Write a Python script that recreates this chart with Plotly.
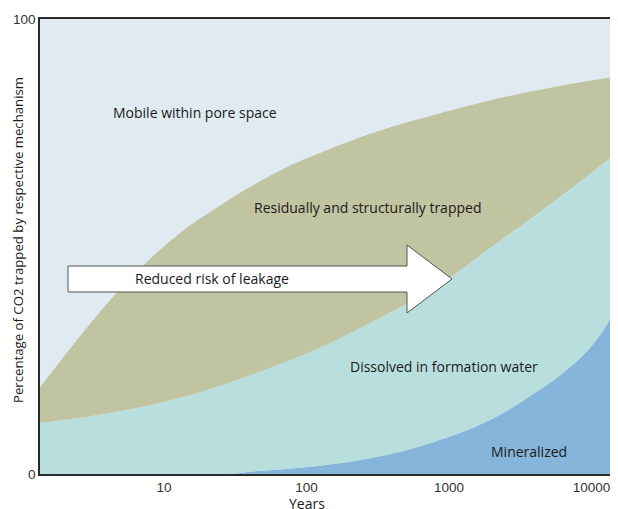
import plotly.graph_objects as go

# Upper boundary of each band (cumulative % of CO2),
# each sampled at its own years (log axis)
mineral_years = [1.35, 20, 30, 40, 90, 202, 453, 773, 1337, 2280, 3890, 5370, 7080, 9290, 11750, 14600]
mineral_top = [0, 0, 0, 0.5, 1.4, 2.7, 4.9, 7.0, 9.6, 13.0, 17.6, 20.5, 23.5, 27.0, 31.0, 36.0]

dissolved_years = [1.35, 3.98, 11.2, 31.6, 89, 158, 251, 447, 741, 1000, 1585, 2690, 5370, 10000, 14600]
dissolved_top = [11.2, 13.3, 16.2, 20.5, 25.8, 29.3, 32.5, 36.5, 40.3, 43.0, 47.6, 52.9, 59.8, 66.2, 70.3]

residual_years = [1.35, 2.24, 3.89, 6.61, 13.5, 23.4, 39.8, 69.2, 117, 200, 398, 741, 1862, 5370, 14600]
residual_top = [19.0, 27.9, 37.1, 44.8, 53.4, 58.5, 63.0, 67.1, 70.2, 73.1, 76.3, 78.7, 82.0, 85.0, 87.3]

series_names = ["Mineralized", "Dissolved in formation water",
                "Residually and structurally trapped"]
series_years = [mineral_years, dissolved_years, residual_years]
series_tops = [mineral_top, dissolved_top, residual_top]
series_colors = ["#86b5dc", "#b8dfdd", "#c1c4a0"]
mobile_color = "#dfeaf1"  # "Mobile within pore space" fills the rest up to 100 %

x_tickvals = [10, 100, 1000, 10000]
x_ticktext = ["10", "100", "1000", "10000"]
y_tickvals = [0, 100]
y_ticktext = ["0", "100"]

fig = go.Figure()
for i, (name, xs, ys, col) in enumerate(zip(series_names, series_years, series_tops, series_colors)):
    fig.add_trace(go.Scatter(
        x=xs, y=ys, name=name, mode="lines",
        fill="tozeroy" if i == 0 else "tonexty",
        line=dict(width=0, shape="spline", smoothing=1.0), fillcolor=col,
        hoverinfo="skip", showlegend=False))

# The page body has an 8px margin, so the figure is drawn 8px in from the window corner
OFF = 8
W, H = 618 - OFF, 509 - OFF
L, R, T, B = 40 - OFF, 3, 19 - OFF, 509 - 474

fig.update_layout(
    width=W, height=H,
    margin=dict(l=L, r=R, t=T, b=B, autoexpand=False),
    paper_bgcolor="white", plot_bgcolor=mobile_color,
    font=dict(family="Open Sans", color="#222"),
    showlegend=False,
)
fig.update_xaxes(type="log", range=[0.13, 4.165], tickvals=x_tickvals, ticktext=x_ticktext,
                 showgrid=False, zeroline=False, showline=True, linecolor="#2a2a2a",
                 linewidth=1.5, mirror=True, ticks="", automargin=False,
                 tickfont=dict(family="Liberation Sans, Arial", size=13.5, color="#333"))
fig.update_yaxes(range=[0, 100], tickvals=y_tickvals, ticktext=y_ticktext,
                 showgrid=False, zeroline=False, showline=True, linecolor="#2a2a2a",
                 linewidth=1.5, mirror=True, ticks="", automargin=False,
                 tickfont=dict(family="Liberation Sans, Arial", size=13.5, color="#333"))

pw, ph = W - L - R, H - T - B

def px(x):
    # window pixel x -> paper fraction
    return (x - OFF - L) / pw

def py(y):
    # window pixel y -> paper fraction
    return (H - B - (y - OFF)) / ph

# Arrow shape (decoration) in paper coordinates
x0, xb, xt = px(68), px(407), px(452)
ys_top, ys_bot = py(266), py(292)
yh_top, yh_bot, y_tip = py(245), py(313), py(279)
path = (f"M {x0},{ys_top} L {xb},{ys_top} L {xb},{yh_top} L {xt},{y_tip} "
        f"L {xb},{yh_bot} L {xb},{ys_bot} L {x0},{ys_bot} Z")
fig.add_shape(type="path", path=path, xref="paper", yref="paper",
              fillcolor="white", line=dict(color="#555", width=1))

labels = [
    ("Mobile within pore space", 195, 112),
    ("Residually and structurally trapped", 367, 208),
    ("Reduced risk of leakage", 212, 278),
    ("Dissolved in formation water", 444, 366),
    ("Mineralized", 529, 451),
]
for txt, xx, yy in labels:
    fig.add_annotation(text=txt, x=px(xx), y=py(yy), xref="paper", yref="paper",
                       showarrow=False, font=dict(size=14, color="#1a1a1a"),
                       xanchor="center", yanchor="middle")

fig.add_annotation(text="Percentage of CO2 trapped by respective mechanism",
                   x=px(18), y=py(240), xref="paper", yref="paper", textangle=-90,
                   showarrow=False, font=dict(size=13.2, color="#1a1a1a"),
                   xanchor="center", yanchor="middle")
fig.add_annotation(text="Years", x=px(307), y=py(503), xref="paper", yref="paper",
                   showarrow=False, font=dict(size=14, color="#1a1a1a"),
                   xanchor="center", yanchor="middle")

fig.write_html("out.html")
